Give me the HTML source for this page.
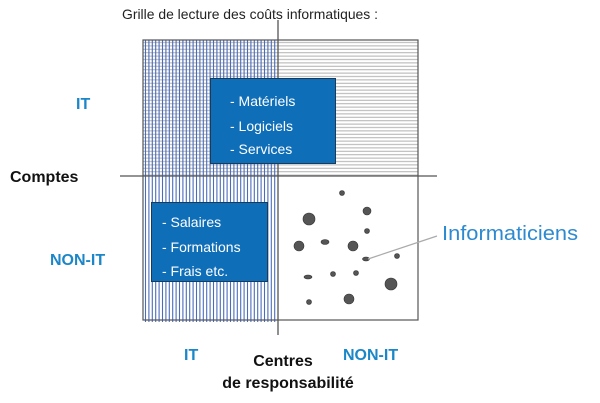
<!DOCTYPE html>
<html><head><meta charset="utf-8"><style>html,body{margin:0;padding:0;background:#fff}svg{display:block}</style></head>
<body>
<svg width="600" height="403" viewBox="0 0 600 403" xmlns="http://www.w3.org/2000/svg" font-family="'Liberation Sans', sans-serif">
<defs>
<pattern id="hz" width="4" height="3.4" patternUnits="userSpaceOnUse"><rect width="4" height="3.4" fill="#fff"/><rect y="1.2" width="4" height="1" fill="#b0b0b0"/></pattern>
</defs>
<text x="250" y="19" font-size="14" text-anchor="middle" fill="#222" textLength="256" lengthAdjust="spacingAndGlyphs">Grille de lecture des coûts informatiques :</text>
<rect x="143" y="40" width="275" height="136" fill="url(#hz)"/>
<rect x="143" y="176" width="275" height="146" fill="#fff"/>
<path stroke="#4a6cbc" stroke-width="1.1" fill="none" d="M145.5 40V322M148.9 40V322M152.3 40V322M155.7 40V322M159.1 40V322M162.5 40V322M165.9 40V322M169.3 40V322M172.7 40V322M176.1 40V322M179.5 40V322M182.9 40V322M186.3 40V322M189.7 40V322M193.1 40V322M196.5 40V322M199.9 40V322M203.3 40V322M206.7 40V322M210.1 40V322M213.5 40V322M216.9 40V322M220.3 40V322M223.7 40V322M227.1 40V322M230.5 40V322M233.9 40V322M237.3 40V322M240.7 40V322M244.1 40V322M247.5 40V322M250.9 40V322M254.3 40V322M257.7 40V322M261.1 40V322M264.5 40V322M267.9 40V322M271.3 40V322M274.7 40V322"/>
<rect x="143" y="40" width="275" height="280" fill="none" stroke="#555" stroke-width="1.2"/>
<line x1="278" y1="20" x2="278" y2="335" stroke="#555" stroke-width="1.3"/>
<line x1="120" y1="176" x2="437" y2="176" stroke="#555" stroke-width="1.3"/>
<rect x="210.5" y="78.5" width="125" height="85" fill="#0f6eb8" stroke="#1a3a5a"/>
<g fill="#fff" font-size="14"><text x="230" y="106">- Matériels</text><text x="230" y="131">- Logiciels</text><text x="230" y="154">- Services</text></g>
<rect x="151.5" y="202.5" width="116" height="79" fill="#0f6eb8" stroke="#1a3a5a"/>
<g fill="#fff" font-size="14"><text x="162" y="227">- Salaires</text><text x="162" y="252">- Formations</text><text x="162" y="276">- Frais etc.</text></g>
<g fill="#555" stroke="#333" stroke-width="0.6">
<circle cx="342" cy="193" r="2.5"/><circle cx="367" cy="211" r="4"/><circle cx="309" cy="219" r="6"/>
<circle cx="367" cy="231" r="2.5"/><circle cx="299" cy="246" r="5"/><ellipse cx="325" cy="242" rx="4" ry="2.5"/>
<circle cx="353" cy="246" r="5"/><ellipse cx="366" cy="259" rx="3.5" ry="2"/><circle cx="397" cy="256" r="2.5"/>
<ellipse cx="308" cy="277" rx="4" ry="2"/><circle cx="333" cy="274" r="2.5"/><circle cx="356" cy="273" r="2.5"/>
<circle cx="391" cy="284" r="6"/><circle cx="309" cy="302" r="2.5"/><circle cx="349" cy="299" r="5"/>
</g>
<line x1="368" y1="259" x2="437" y2="236" stroke="#aaa" stroke-width="1.2"/>
<text x="442" y="240" font-size="20" fill="#2e8ad0" textLength="136" lengthAdjust="spacingAndGlyphs">Informaticiens</text>
<g font-weight="bold" font-size="16">
<text x="76" y="109" fill="#1b86c8">IT</text>
<text x="50" y="265" fill="#1b86c8">NON-IT</text>
<text x="10" y="182" fill="#111">Comptes</text>
<text x="184" y="360" fill="#1b86c8">IT</text>
<text x="343" y="360" fill="#1b86c8">NON-IT</text>
<text x="283" y="366" fill="#111" text-anchor="middle">Centres</text>
<text x="288" y="388" fill="#111" text-anchor="middle">de responsabilité</text>
</g>
</svg>
</body></html>
